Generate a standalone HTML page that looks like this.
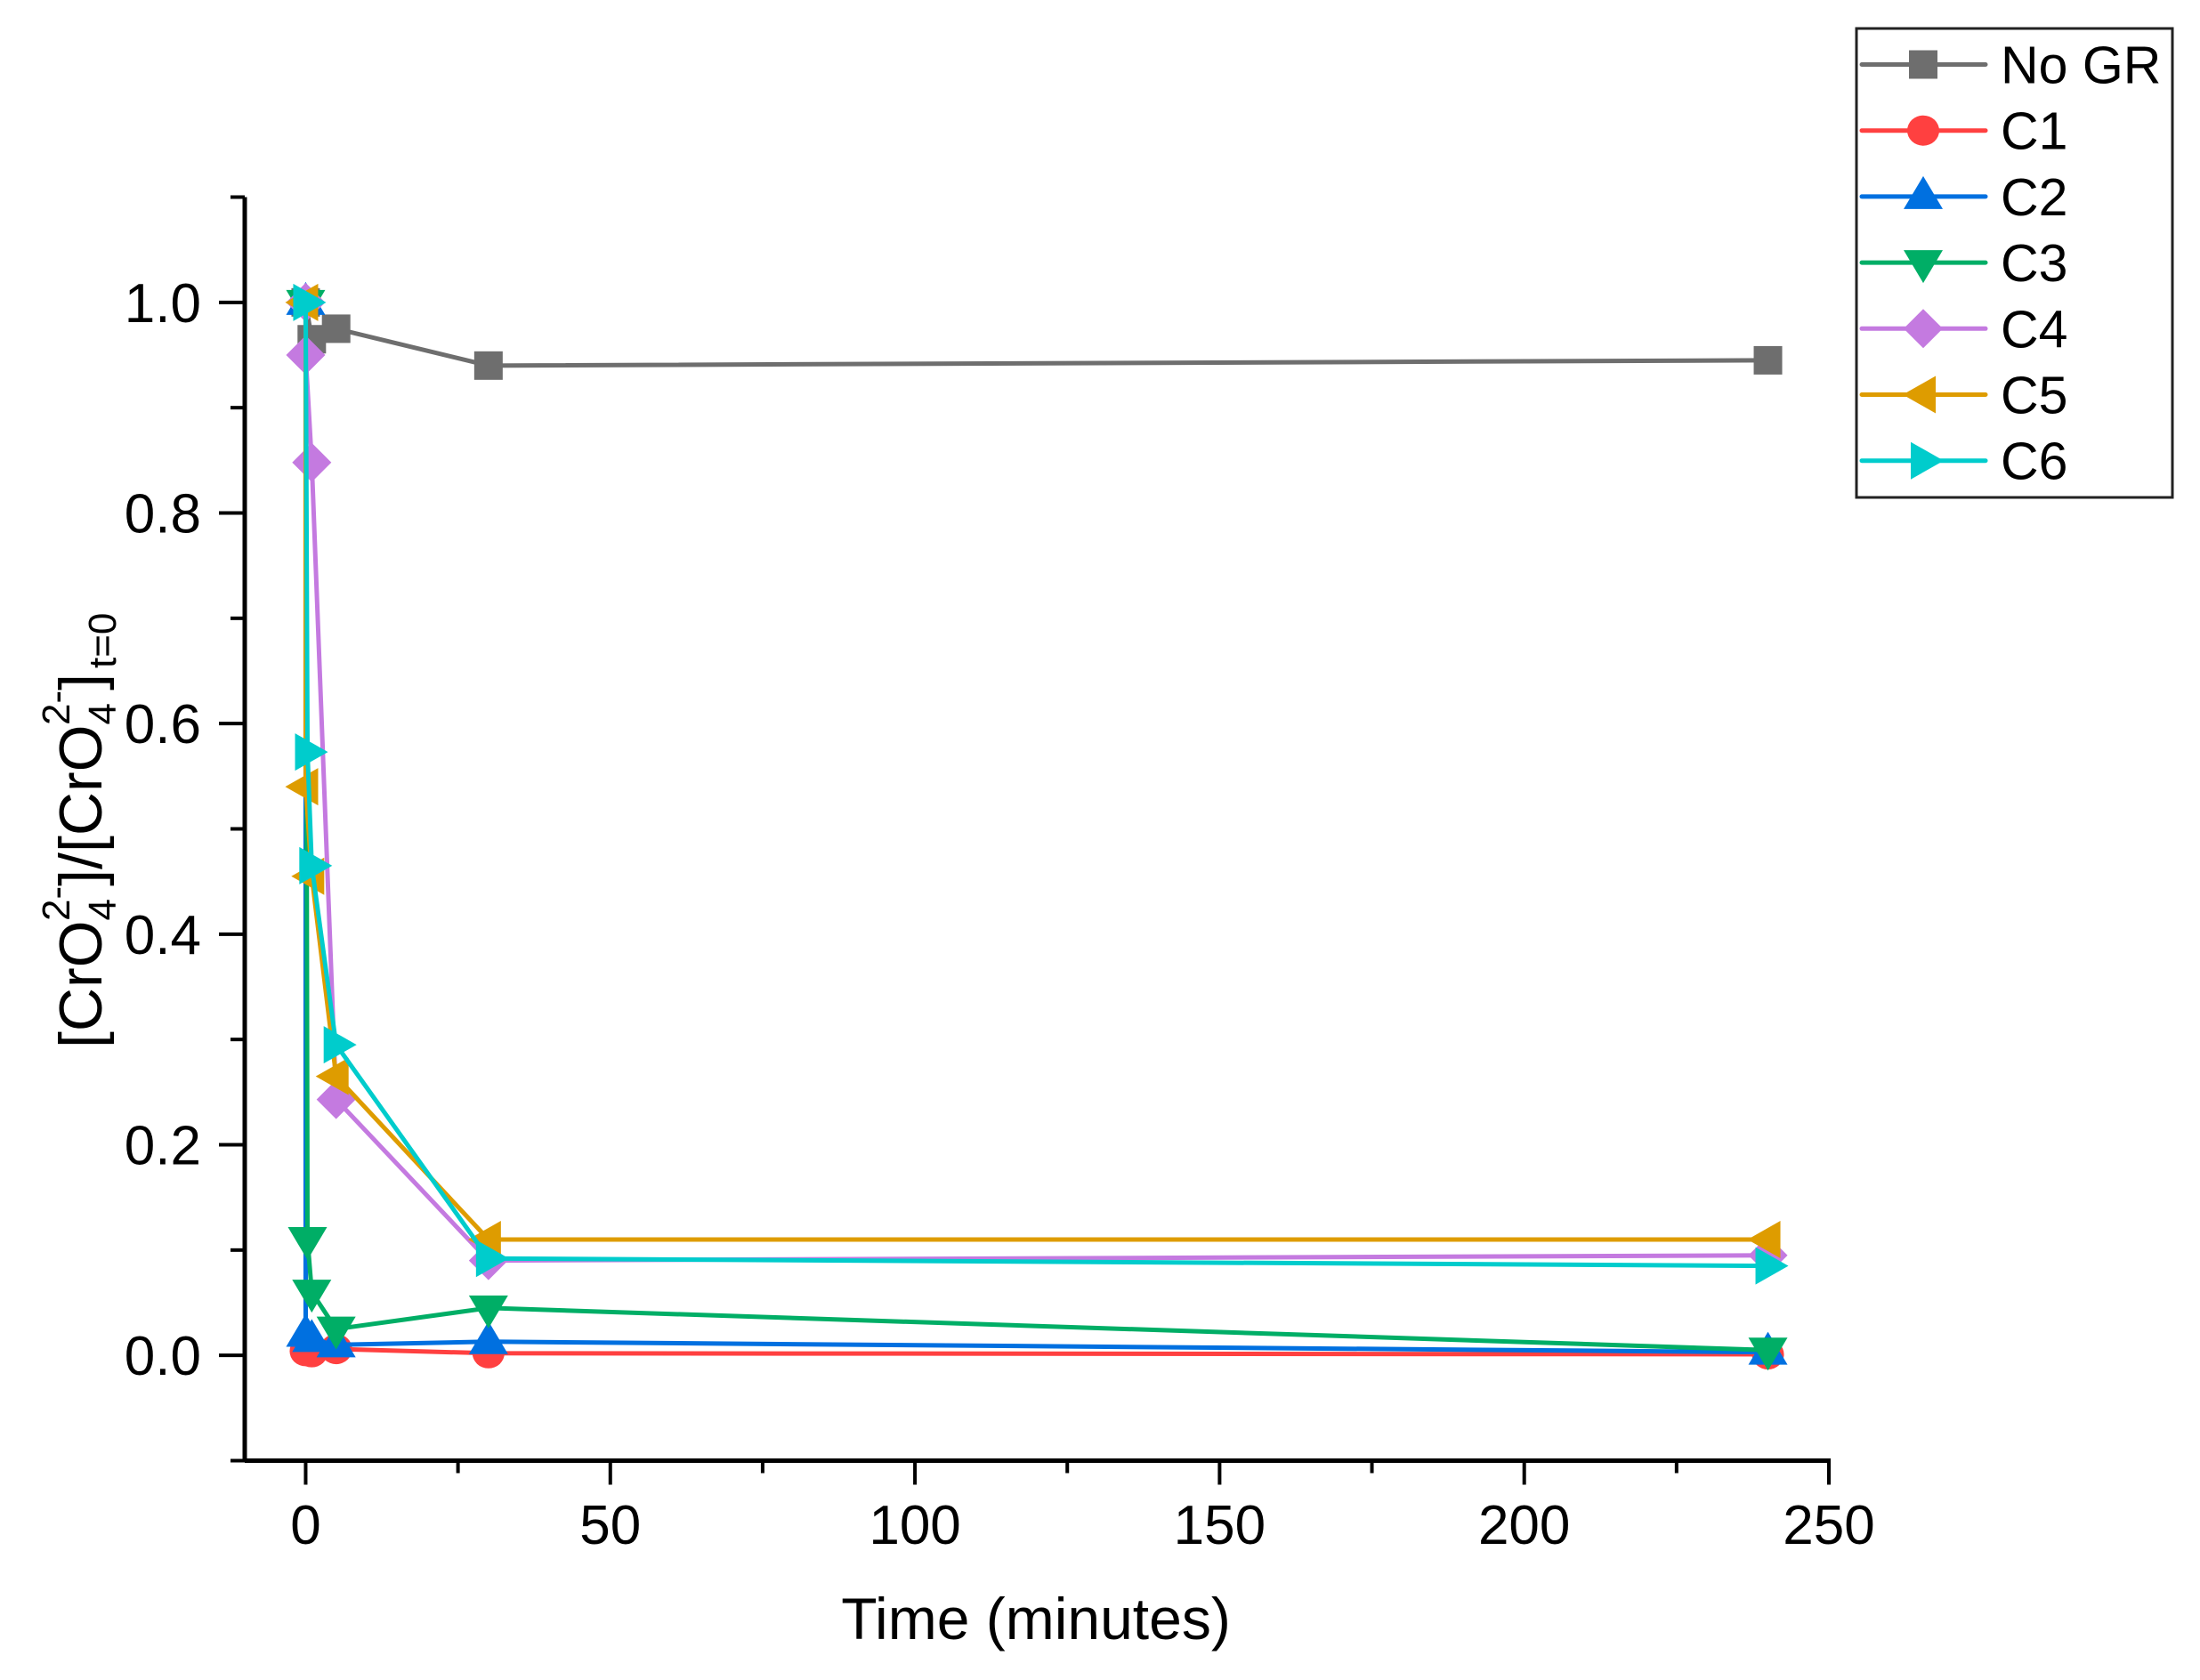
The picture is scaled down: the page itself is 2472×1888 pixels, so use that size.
<!DOCTYPE html>
<html><head><meta charset="utf-8"><style>
html,body{margin:0;padding:0;background:#fff;}
svg{display:block;font-family:"Liberation Sans",Arial,sans-serif;}
</style></head><body>
<svg id="chart" width="2472" height="1888" viewBox="0 0 2472 1888" xmlns="http://www.w3.org/2000/svg">
<rect width="2472" height="1888" fill="#fff"/>
<g id="axes"></g>
<g id="series"></g>
<g id="legend"></g>
<text x="1164" y="1842" font-size="66" text-anchor="middle">Time (minutes)</text>
<g transform="translate(114,928) rotate(-90)">
<text x="-250" y="0" font-size="68">[CrO<tspan font-size="44" dy="16">4</tspan><tspan font-size="44" dx="-25" dy="-52">2-</tspan><tspan dy="36">]/[CrO</tspan><tspan font-size="44" dy="16">4</tspan><tspan font-size="44" dx="-25" dy="-52">2-</tspan><tspan dy="36">]</tspan><tspan font-size="44" dx="6" dy="16">t=0</tspan></text>
</g>
</svg>
<script>
const seriesNames = ["No GR","C1","C2","C3","C4","C5","C6"];
const seriesColors = ["#6e6e6e","#ff4040","#0070e0","#00ae66","#c47ae0","#de9c00","#00cccc"];
const seriesMarkers = ["square","circle","up","down","diamond","left","right"];
const timesNoGR = [0, 1, 5, 30, 240];
const valuesNoGR = [1.0, 0.965, 0.975, 0.94, 0.945];
const timesC1 = [0, 0, 1, 5, 30, 240];
const valuesC1 = [1.0, 0.004, 0.003, 0.006, 0.002, 0.001];
const timesC2 = [0, 0, 1, 5, 30, 240];
const valuesC2 = [1.0, 0.02, 0.015, 0.01, 0.013, 0.003];
const timesC3 = [0, 0.3, 1, 5, 30, 240];
const valuesC3 = [1.0, 0.11, 0.06, 0.025, 0.045, 0.005];
const timesC4 = [0, 0, 1, 5, 30, 240];
const valuesC4 = [1.0, 0.95, 0.848, 0.243, 0.09, 0.095];
const timesC5 = [0, 0, 1, 5, 30, 240];
const valuesC5 = [1.0, 0.54, 0.455, 0.265, 0.11, 0.11];
const timesC6 = [0, 0.3, 1, 5, 30, 240];
const valuesC6 = [1.0, 0.573, 0.465, 0.295, 0.092, 0.085];
const xTickLabels = ["0","50","100","150","200","250"];
const xTickValues = [0,50,100,150,200,250];
const xMinorValues = [25,75,125,175,225];
const yTickLabels = ["0.0","0.2","0.4","0.6","0.8","1.0"];
const yTickValues = [0,0.2,0.4,0.6,0.8,1.0];
const yMinorValues = [-0.1,0.1,0.3,0.5,0.7,0.9,1.1];

const allTimes=[timesNoGR,timesC1,timesC2,timesC3,timesC4,timesC5,timesC6];
const allValues=[valuesNoGR,valuesC1,valuesC2,valuesC3,valuesC4,valuesC5,valuesC6];
const X0=275,X1=2055,XMIN=-10,XMAX=250,Y0=1641.5,Y1=221.5,YMIN=-0.1,YMAX=1.1;
function sx(v){return X0+(v-XMIN)/(XMAX-XMIN)*(X1-X0);}
function sy(v){return Y0-(v-YMIN)/(YMAX-YMIN)*(Y0-Y1);}
const NS="http://www.w3.org/2000/svg";
function mk(tag,attrs,parent){const e=document.createElementNS(NS,tag);for(const k in attrs)e.setAttribute(k,attrs[k]);parent.appendChild(e);return e;}
const axes=document.getElementById('axes');
let l=mk('line',{x1:X0,y1:Y0,x2:X1+2,y2:Y0,stroke:'#000','stroke-width':5},axes);


l=mk('line',{x1:X0,y1:Y1,x2:X0,y2:Y0+2,stroke:'#000','stroke-width':5},axes);


xTickValues.forEach((v,i)=>{
  const t=mk('line',{x1:sx(v),y1:Y0,x2:sx(v),y2:Y0+27,stroke:'#000','stroke-width':4},axes);
  
  
  const tx=mk('text',{x:sx(v),y:1735,'font-size':62,'text-anchor':'middle'},axes);
  tx.textContent=xTickLabels[i];
  
  
});
xMinorValues.forEach(v=>{
  const t=mk('line',{x1:sx(v),y1:Y0,x2:sx(v),y2:Y0+14,stroke:'#000','stroke-width':4},axes);
  
  
});
yTickValues.forEach((v,i)=>{
  const t=mk('line',{x1:X0-29,y1:sy(v),x2:X0,y2:sy(v),stroke:'#000','stroke-width':4},axes);
  
  
  const tx=mk('text',{x:226,y:sy(v)+22,'font-size':62,'text-anchor':'end'},axes);
  tx.textContent=yTickLabels[i];
  
  
});
yMinorValues.forEach(v=>{
  const t=mk('line',{x1:X0-16,y1:sy(v),x2:X0,y2:sy(v),stroke:'#000','stroke-width':4},axes);
  
  
});
function marker(type,cx,cy,color,parent){
  const s=16;let e;
  if(type==='square')e=mk('rect',{x:cx-s,y:cy-s,width:2*s,height:2*s,fill:color},parent);
  else if(type==='circle')e=mk('ellipse',{cx:cx,cy:cy,rx:18,ry:17,fill:color},parent);
  else{let p;
    if(type==='up')p=[[cx,cy-23],[cx+22,cy+14],[cx-22,cy+14]];
    else if(type==='down')p=[[cx,cy+23],[cx+22,cy-14],[cx-22,cy-14]];
    else if(type==='diamond')p=[[cx,cy-22],[cx+22,cy],[cx,cy+22],[cx-22,cy]];
    else if(type==='left')p=[[cx-23,cy],[cx+14,cy-21],[cx+14,cy+21]];
    else p=[[cx+23,cy],[cx-14,cy-21],[cx-14,cy+21]];
    e=mk('polygon',{points:p.map(a=>a.join(',')).join(' '),fill:color},parent);}
  return e;
}
const sg=document.getElementById('series');
const order=[0,1,2,3,4,5,6];
order.forEach(i=>{
  const g=mk('g',{},sg);
  
  
  const pts=allTimes[i].map((t,j)=>sx(t)+','+sy(allValues[i][j])).join(' ');
  const pl=mk('polyline',{points:pts,fill:'none',stroke:seriesColors[i],'stroke-width':5,'stroke-linejoin':'round'},g);
  
  
  allTimes[i].forEach((t,j)=>{
    const m=marker(seriesMarkers[i],sx(t),sy(allValues[i][j]),seriesColors[i],g);
    
    
  });
});
const lg=document.getElementById('legend');
const box=mk('rect',{x:2086,y:32,width:355,height:527,fill:'#fff',stroke:'#222','stroke-width':3},lg);


seriesNames.forEach((n,i)=>{
  const y=72.5+i*74.2;
  const g=mk('g',{},lg);
  
  
  mk('line',{x1:2092,y1:y,x2:2231,y2:y,stroke:seriesColors[i],'stroke-width':5,'stroke-linecap':'round'},g);
  marker(seriesMarkers[i],2161,y,seriesColors[i],g);
  const tx=mk('text',{x:2248,y:y+21,'font-size':59},g);
  tx.textContent=n;
  
  
});
</script>
</body></html>
